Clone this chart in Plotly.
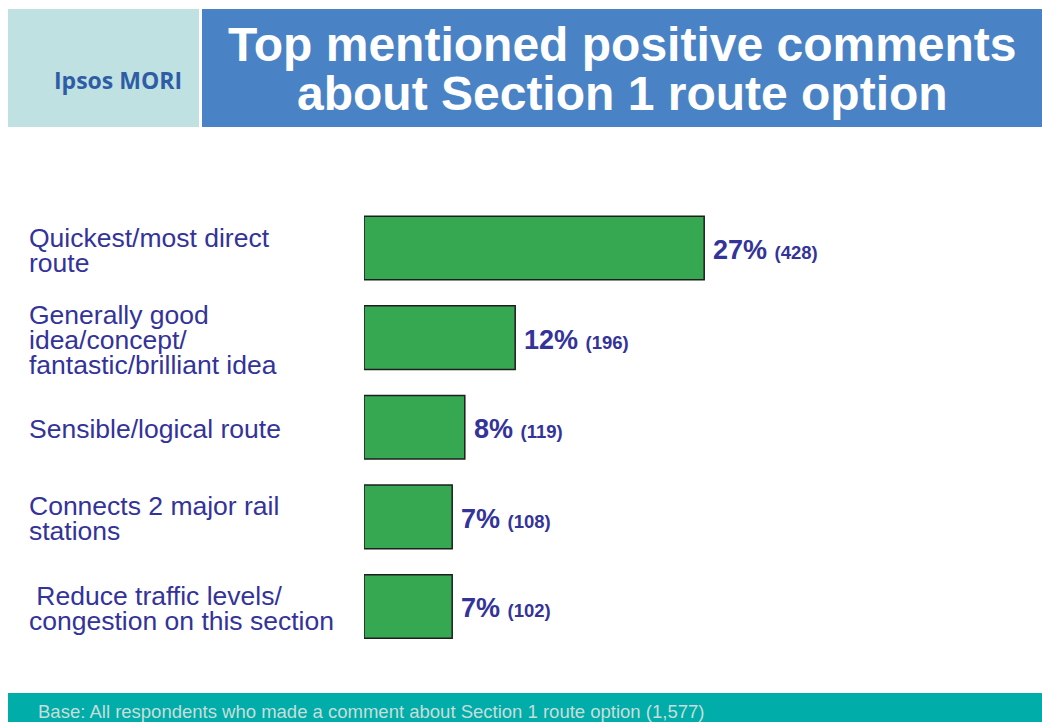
import plotly.graph_objects as go

# ── Data ──────────────────────────────────────────────────────────────────────
CATEGORIES = [
    "Quickest/most direct<br>route",
    "Generally good<br>idea/concept/<br>fantastic/brilliant idea",
    "Sensible/logical route",
    "Connects 2 major rail<br>stations",
    " Reduce traffic levels/<br>congestion on this section",
]
PERCENTS = [27, 12, 8, 7, 7]
COUNTS = [428, 196, 119, 108, 102]

TITLE_LINES = ["Top mentioned positive comments", "about Section 1 route option"]
LOGO_TEXT = "Ipsos MORI"
BASE_NOTE = "Base: All respondents who made a comment about Section 1 route option (1,577)"

# ── Style ─────────────────────────────────────────────────────────────────────
W, H = 1042, 722
FONT = "Liberation Sans, Arial, sans-serif"
C_BAR = "#36A852"
C_BAR_LINE = "#1E1E1E"
C_TEXT = "#333399"
C_TITLE_BG = "#4A83C5"
C_LOGO_BG = "#C0E1E2"
C_LOGO_TXT = "#2F5DA5"
C_FOOT_BG = "#00ADA8"
C_FOOT_TXT = "#C8DDDB"

LABEL_SIZE = 26.5
LINE_GAP = 25


def fx(px):
    return px / W


def fy(py):
    return 1 - py / H


fig = go.Figure(
    go.Bar(
        x=PERCENTS,
        y=list(range(len(CATEGORIES))),
        orientation="h",
        width=0.71,
        marker=dict(color=C_BAR, line=dict(color=C_BAR_LINE, width=1.5)),
        hoverinfo="skip",
    )
)

annotations = []

# category labels, one annotation per line so the tight line spacing holds
for i, cat in enumerate(CATEGORIES):
    lines = cat.split("<br>")
    n = len(lines)
    for k, line in enumerate(lines):
        txt = line.replace(" ", "&nbsp;", 1) if line.startswith(" ") else line
        annotations.append(dict(
            x=fx(28), xref="paper", xanchor="left",
            y=i, yref="y", yanchor="middle",
            yshift=-(2 + (k - (n - 1) / 2) * LINE_GAP),
            text=txt, showarrow=False, borderpad=0,
            font=dict(family=FONT, size=LABEL_SIZE, color=C_TEXT),
        ))

# value labels
for i, (p, c) in enumerate(zip(PERCENTS, COUNTS)):
    annotations.append(dict(
        x=p, xref="x", xanchor="left", xshift=7,
        y=i, yref="y", yanchor="middle", yshift=-2,
        text=f"<b>{p}%</b> <b><span style='font-size:18.5px'>({c})</span></b>",
        showarrow=False,
        font=dict(family=FONT, size=27, color=C_TEXT),
    ))

# header title
for py, line in zip([45, 93], TITLE_LINES):
    annotations.append(dict(
        x=fx(622), xref="paper", xanchor="center",
        y=fy(py), yref="paper", yanchor="middle",
        text=f"<b>{line}</b>", showarrow=False,
        font=dict(family=FONT, size=48, color="white"),
    ))

annotations.append(dict(
    x=fx(118), xref="paper", xanchor="center",
    y=fy(80), yref="paper", yanchor="middle",
    text=f"<b>{LOGO_TEXT}</b>", showarrow=False,
    font=dict(family="Open Sans, sans-serif", size=23, color=C_LOGO_TXT),
))

annotations.append(dict(
    x=fx(36), xref="paper", xanchor="left",
    y=fy(711), yref="paper", yanchor="middle",
    text=BASE_NOTE, showarrow=False,
    font=dict(family=FONT, size=18.5, color=C_FOOT_TXT),
))

shapes = [
    dict(type="rect", xref="paper", yref="paper", x0=fx(8), x1=fx(199),
         y0=fy(127), y1=fy(9), fillcolor=C_LOGO_BG, line_width=0, layer="below"),
    dict(type="rect", xref="paper", yref="paper", x0=fx(202), x1=1,
         y0=fy(127), y1=fy(9), fillcolor=C_TITLE_BG, line_width=0, layer="below"),
    dict(type="rect", xref="paper", yref="paper", x0=fx(8), x1=1,
         y0=0, y1=fy(693), fillcolor=C_FOOT_BG, line_width=0, layer="below"),
]

fig.update_layout(
    width=W, height=H,
    margin=dict(l=0, r=0, t=0, b=0),
    paper_bgcolor="white", plot_bgcolor="white",
    showlegend=False,
    annotations=annotations,
    shapes=shapes,
    xaxis=dict(domain=[fx(364), fx(1040)], range=[0, 676 / 12.6],
               visible=False, fixedrange=True),
    yaxis=dict(domain=[fy(651.3), fy(203.2)], range=[4.5, -0.5],
               visible=False, fixedrange=True),
)

# page body has a default 8px margin; drop it so the figure sits at 0,0
fig.write_html(
    "out.html",
    config={"displayModeBar": False},
    post_script="document.body.style.margin='0';document.body.style.overflow='hidden';",
)
